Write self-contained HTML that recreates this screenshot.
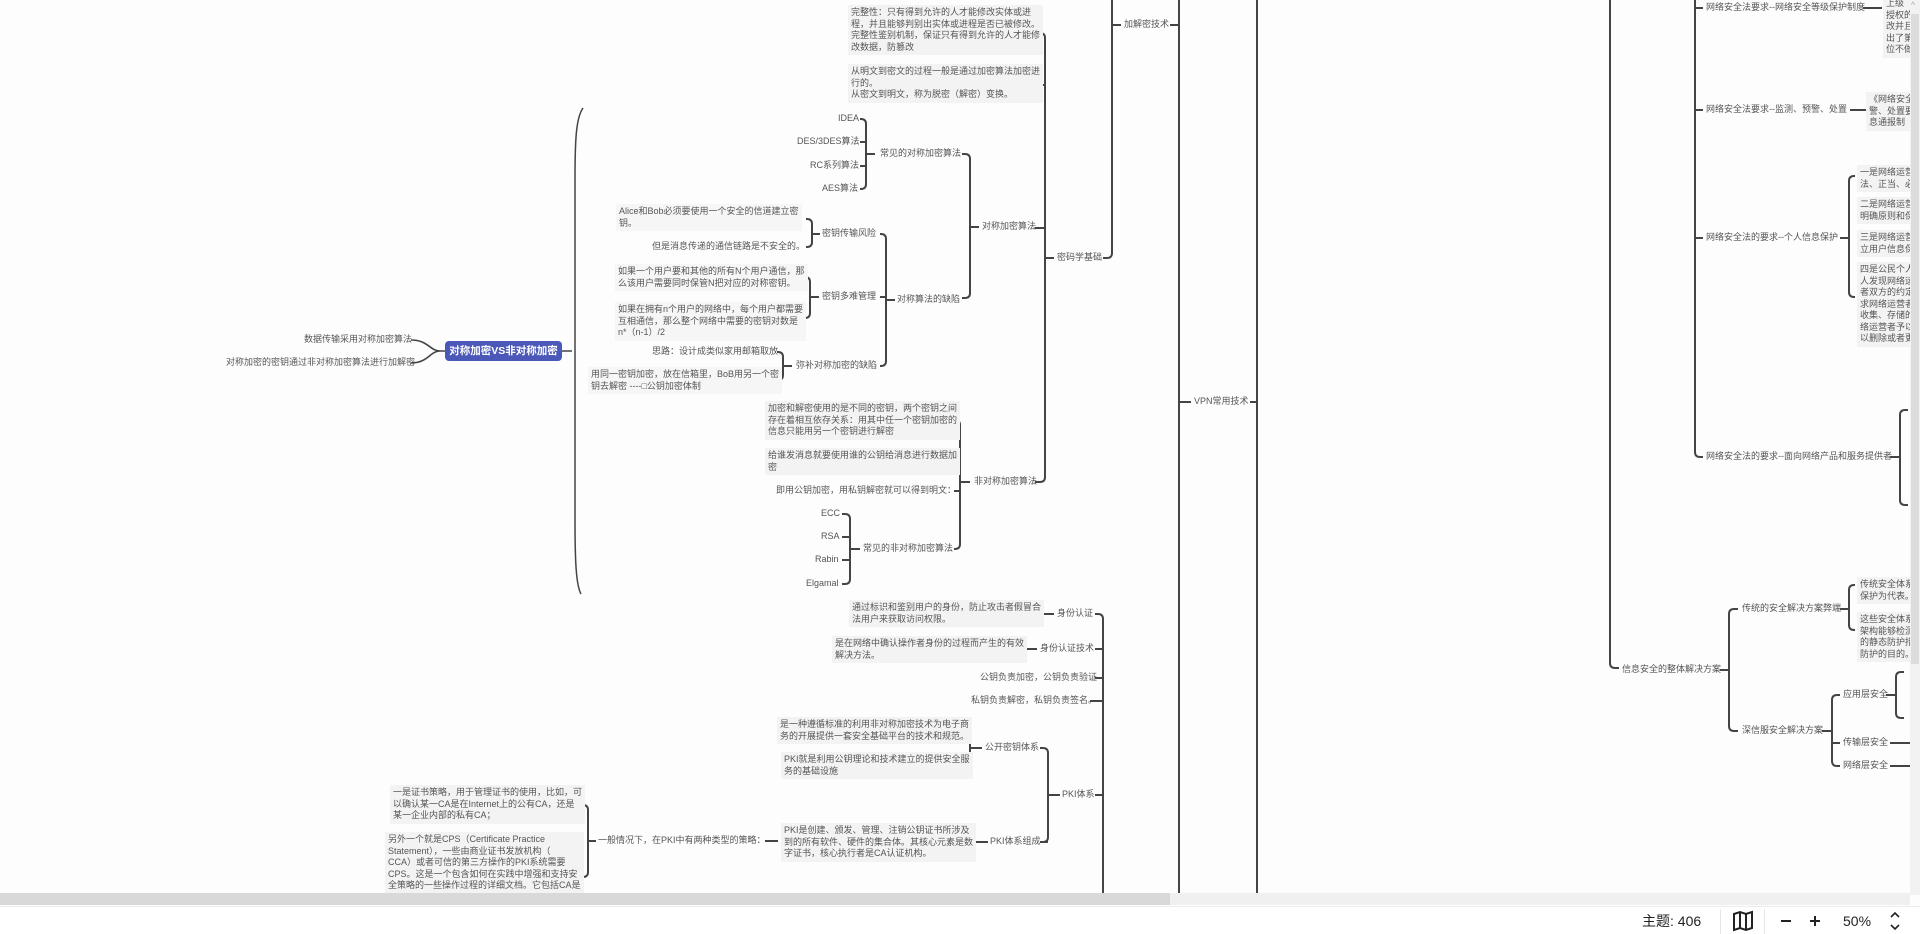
<!DOCTYPE html>
<html><head><meta charset="utf-8">
<style>
html,body{margin:0;padding:0;background:#fdfdfd;width:1920px;height:934px;overflow:hidden}
body{position:relative;font-family:"Liberation Sans","Noto Sans CJK SC",sans-serif;color:#555;font-size:9px;line-height:11.5px}
.t{position:absolute;white-space:nowrap}
.b{position:absolute;background:#f3f3f3;padding:2px 3px;white-space:nowrap}
svg{position:absolute;left:0;top:0}
.root{position:absolute;left:445px;top:341px;width:117px;height:20px;background:#4b58b8;border-radius:4px;color:#fff;font-weight:bold;font-size:10.5px;line-height:20px;text-align:center}
.clip{position:absolute;left:0;top:0;width:1910px;height:895px;overflow:hidden}
</style></head><body>
<div class="clip">
<svg id="s" width="1920" height="934"></svg>
<div class="t" style="left:304px;top:334px">数据传输采用对称加密算法</div>
<div class="t" style="left:226px;top:357px">对称加密的密钥通过非对称加密算法进行加解密</div>
<div class="root">对称加密VS非对称加密</div>

<div class="b" style="left:848px;top:5px">完整性：只有得到允许的人才能修改实体或进<br>程，并且能够判别出实体或进程是否已被修改。<br>完整性鉴别机制，保证只有得到允许的人才能修<br>改数据，防篡改</div>
<div class="b" style="left:848px;top:64px">从明文到密文的过程一般是通过加密算法加密进<br>行的。<br>从密文到明文，称为脱密（解密）变换。</div>
<div class="t" style="left:838px;top:113px">IDEA</div>
<div class="t" style="left:797px;top:136px">DES/3DES算法</div>
<div class="t" style="left:810px;top:160px">RC系列算法</div>
<div class="t" style="left:822px;top:183px">AES算法</div>
<div class="t" style="left:880px;top:148px">常见的对称加密算法</div>
<div class="t" style="left:982px;top:221px">对称加密算法</div>
<div class="b" style="left:616px;top:204px;background:#f6f6f6">Alice和Bob必须要使用一个安全的信道建立密<br>钥。</div>
<div class="t" style="left:652px;top:241px">但是消息传递的通信链路是不安全的。</div>
<div class="t" style="left:822px;top:228px">密钥传输风险</div>
<div class="b" style="left:615px;top:264px;background:#f6f6f6">如果一个用户要和其他的所有N个用户通信，那<br>么该用户需要同时保管N把对应的对称密钥。</div>
<div class="b" style="left:615px;top:302px;background:#f6f6f6">如果在拥有n个用户的网络中，每个用户都需要<br>互相通信，那么整个网络中需要的密钥对数是<br>n*（n-1）/2</div>
<div class="t" style="left:822px;top:291px">密钥多难管理</div>
<div class="t" style="left:897px;top:294px">对称算法的缺陷</div>
<div class="t" style="left:652px;top:346px">思路：设计成类似家用邮箱取放</div>
<div class="b" style="left:588px;top:367px;background:#f6f6f6">用同一密钥加密，放在信箱里，BoB用另一个密<br>钥去解密 ----□公钥加密体制</div>
<div class="t" style="left:796px;top:360px">弥补对称加密的缺陷</div>
<div class="b" style="left:765px;top:401px">加密和解密使用的是不同的密钥，两个密钥之间<br>存在着相互依存关系：用其中任一个密钥加密的<br>信息只能用另一个密钥进行解密</div>
<div class="b" style="left:765px;top:448px">给谁发消息就要使用谁的公钥给消息进行数据加<br>密</div>
<div class="t" style="left:776px;top:485px">即用公钥加密，用私钥解密就可以得到明文：</div>
<div class="t" style="left:821px;top:508px">ECC</div>
<div class="t" style="left:821px;top:531px">RSA</div>
<div class="t" style="left:815px;top:554px">Rabin</div>
<div class="t" style="left:806px;top:578px">Elgamal</div>
<div class="t" style="left:863px;top:543px">常见的非对称加密算法</div>
<div class="t" style="left:974px;top:476px">非对称加密算法</div>
<div class="t" style="left:1057px;top:252px">密码学基础</div>
<div class="t" style="left:1124px;top:19px">加解密技术</div>
<div class="t" style="left:1194px;top:396px">VPN常用技术</div>

<div class="b" style="left:849px;top:600px">通过标识和鉴别用户的身份，防止攻击者假冒合<br>法用户来获取访问权限。</div>
<div class="t" style="left:1057px;top:608px">身份认证</div>
<div class="b" style="left:832px;top:636px">是在网络中确认操作者身份的过程而产生的有效<br>解决方法。</div>
<div class="t" style="left:1040px;top:643px">身份认证技术</div>
<div class="t" style="left:980px;top:672px">公钥负责加密，公钥负责验证</div>
<div class="t" style="left:971px;top:695px">私钥负责解密，私钥负责签名。</div>
<div class="b" style="left:777px;top:717px">是一种遵循标准的利用非对称加密技术为电子商<br>务的开展提供一套安全基础平台的技术和规范。</div>
<div class="b" style="left:781px;top:752px">PKI就是利用公钥理论和技术建立的提供安全服<br>务的基础设施</div>
<div class="t" style="left:985px;top:742px">公开密钥体系</div>
<div class="t" style="left:1062px;top:789px">PKI体系</div>
<div class="b" style="left:781px;top:823px">PKI是创建、颁发、管理、注销公钥证书所涉及<br>到的所有软件、硬件的集合体。其核心元素是数<br>字证书，核心执行者是CA认证机构。</div>
<div class="t" style="left:990px;top:836px">PKI体系组成</div>
<div class="t" style="left:598px;top:835px">一般情况下，在PKI中有两种类型的策略：</div>
<div class="b" style="left:390px;top:785px">一是证书策略，用于管理证书的使用，比如，可<br>以确认某一CA是在Internet上的公有CA，还是<br>某一企业内部的私有CA；</div>
<div class="b" style="left:385px;top:832px">另外一个就是CPS（Certificate Practice<br>Statement），一些由商业证书发放机构（<br>CCA）或者可信的第三方操作的PKI系统需要<br>CPS。这是一个包含如何在实践中增强和支持安<br>全策略的一些操作过程的详细文档。它包括CA是</div>

<div class="t" style="left:1706px;top:2px">网络安全法要求--网络安全等级保护制度</div>
<div class="t" style="left:1706px;top:104px">网络安全法要求--监测、预警、处置</div>
<div class="t" style="left:1706px;top:232px">网络安全法的要求--个人信息保护</div>
<div class="t" style="left:1706px;top:451px">网络安全法的要求--面向网络产品和服务提供者</div>
<div class="b" style="left:1883px;top:-4px">上级<br>授权的<br>改并且<br>出了第<br>位不做</div>
<div class="b" style="left:1866px;top:92px">《网络安全<br>警、处置要<br>息通报制</div>
<div class="b" style="left:1857px;top:165px">一是网络运营<br>法、正当、必</div>
<div class="b" style="left:1857px;top:197px">二是网络运营<br>明确原则和保</div>
<div class="b" style="left:1857px;top:230px">三是网络运营<br>立用户信息保</div>
<div class="b" style="left:1857px;top:262px">四是公民个人<br>人发现网络运<br>者双方的约定<br>求网络运营者<br>收集、存储的<br>络运营者予以<br>以删除或者更</div>
<div class="t" style="left:1622px;top:664px">信息安全的整体解决方案</div>
<div class="t" style="left:1742px;top:603px">传统的安全解决方案弊端</div>
<div class="t" style="left:1742px;top:725px">深信服安全解决方案</div>
<div class="t" style="left:1843px;top:689px">应用层安全</div>
<div class="t" style="left:1843px;top:737px">传输层安全</div>
<div class="t" style="left:1843px;top:760px">网络层安全</div>
<div class="b" style="left:1857px;top:577px">传统安全体系<br>保护为代表。</div>
<div class="b" style="left:1857px;top:612px">这些安全体系<br>架构能够检测<br>的静态防护措<br>防护的目的。</div>
</div>

<div style="position:absolute;left:1910px;top:0;width:10px;height:895px;background:#f2f2f2"></div>
<div style="position:absolute;left:1911px;top:14px;width:8px;height:650px;background:#dcdcdc"></div>
<div class="t" style="left:1911px;top:0;color:#aaa;font-size:9px">^</div>
<div style="position:absolute;left:0;top:893px;width:1910px;height:12px;background:#f0f0f0"></div>
<div style="position:absolute;left:0;top:893px;width:1170px;height:12px;background:#d9d9d9"></div>
<div style="position:absolute;left:0;top:906px;width:1920px;height:28px;background:#fff;border-top:1px solid #ececec"></div>
<div class="t" style="left:1642px;top:912px;font-size:14px;line-height:18px;color:#222">主题: 406</div>
<div style="position:absolute;left:1720px;top:909px;width:1px;height:25px;background:#e6e6e6"></div>
<div style="position:absolute;left:1764px;top:909px;width:1px;height:25px;background:#e6e6e6"></div>
<svg width="1920" height="934" style="pointer-events:none">
<path d="M1734 914 L1740 912 L1746 914 L1752 912 L1752 928 L1746 930 L1740 928 L1734 930 Z M1740 912 L1740 928 M1746 914 L1746 930" fill="none" stroke="#222" stroke-width="2"/>
<path d="M1781 921 H1791 M1810 921 H1820 M1815 916 V926" stroke="#222" stroke-width="2"/>
<path d="M1891 917 L1895 913 L1899 917 M1891 925 L1895 929 L1899 925" fill="none" stroke="#222" stroke-width="1.6"/>
</svg>
<div class="t" style="left:1843px;top:912px;font-size:14px;line-height:18px;color:#222">50%</div>

<script>
var s=document.getElementById('s'),d='';
function L(a){d+=a+' ';}
function br(x,ys,py,dir,plen,clen){
  clen=clen||8;plen=plen||8;var r=5;
  var y1=ys[0],y2=ys[ys.length-1];
  L('M'+(x+dir*clen)+' '+y1+' L'+(x+dir*r)+' '+y1+' Q'+x+' '+y1+' '+x+' '+(y1+r)+' L'+x+' '+(y2-r)+' Q'+x+' '+y2+' '+(x+dir*r)+' '+y2+' L'+(x+dir*clen)+' '+y2);
  for(var i=1;i<ys.length-1;i++)L('M'+x+' '+ys[i]+' L'+(x+dir*clen)+' '+ys[i]);
  if(py!=null)L('M'+x+' '+py+' L'+(x-dir*plen)+' '+py);
}
br(866,[119,142,166,189],154,-1,9,6);
br(970,[154,298],227,-1,9,8);
br(1045,[33,85,228,482],258,-1,9,10);
br(812,[219,247],234,-1,8,6);
br(810,[277,318],297,-1,9,6);
br(886,[234,297,366],300,-1,9,6);
br(783,[352,380],366,-1,9,6);
br(960,[420,462,491,549],482,-1,10,6);
br(850,[514,537,560,584],549,-1,10,8);
br(970,[731,763],748,-1,12,6);
br(1048,[748,842],795,-1,12,8);
br(588,[805,877],841,-1,8,6);
L('M1095 614 L1098 614 Q1103 614 1103 619 L1103 940 M1095 649 L1103 649 M1095 678 L1103 678 M1090 701 L1103 701 M1095 795 L1103 795');
L('M1035 614 L1054 614 M1020 649 L1037 649 M1040 842 L1048 842 M966 842 L988 842 M765 841 L778 841');
L('M1112 -10 L1112 253 Q1112 258 1107 258 L1103 258 M1112 25 L1121 25');
L('M1179 -10 L1179 940 M1170 25 L1179 25 M1179 402 L1191 402');
L('M1257 -10 L1257 940 M1250 402 L1257 402');
L('M1610 -10 L1610 663 Q1610 668 1615 668 L1619 668');
br(1695,[-10,8,110,238,457],null,1,8,8);
L('M1863 8 L1882 8 M1850 110 L1866 110');
br(1729,[609,731],670,1,9,9);
br(1832,[695,743,766],731,1,10,8);
br(1849,[585,630],609,1,9,6);
br(1849,[176,297],238,1,9,6);
br(1900,[410,505],457,1,10,8);
br(1896,[672,718],695,1,10,8);
L('M1890 743 L1910 743 M1890 766 L1910 766');
var h='<path d="'+d+'" fill="none" stroke="#444" stroke-width="2"/>';
h+='<path d="M562 351 L572 351 M583 108 C576 118 575 140 575 180 L575 520 C575 560 576 585 581 594" fill="none" stroke="#444" stroke-width="1.5"/>';
h+='<path d="M445 351 L440 351 C430 351 428 340 411 340 M440 351 C430 351 428 363 411 363" fill="none" stroke="#444" stroke-width="1.6"/>';
s.innerHTML=h;
</script>
</body></html>
